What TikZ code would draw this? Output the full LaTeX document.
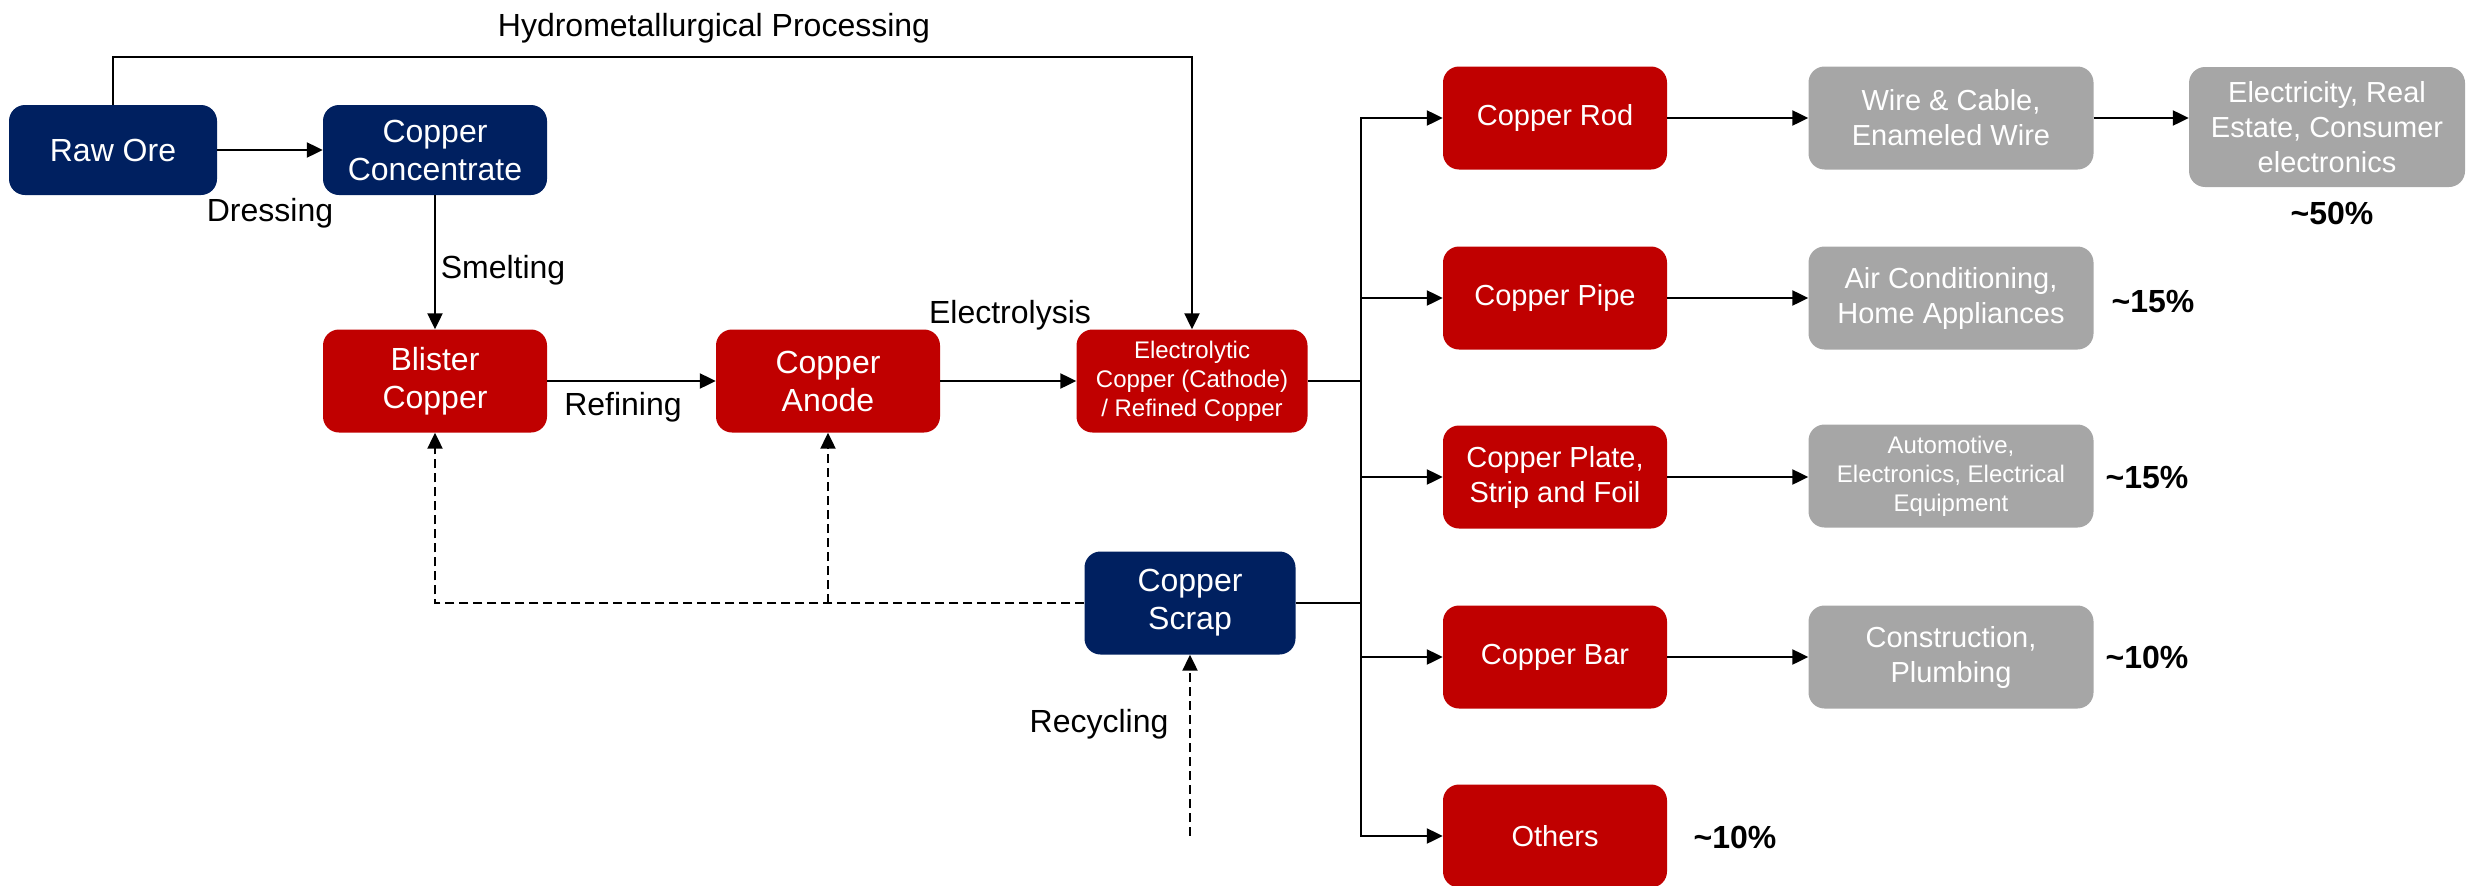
\documentclass[tikz,border=0pt]{standalone}
\usepackage{fontspec}
\setmainfont{Liberation Sans}
\usetikzlibrary{arrows.meta,calc}

\definecolor{navy}{HTML}{002060}
\definecolor{copperred}{HTML}{C00000}
\definecolor{usegray}{HTML}{A6A6A6}

\tikzset{
  box/.style={rounded corners=16pt, minimum width=224pt, minimum height=103pt,
    inner sep=0pt, align=center, text=white, font=\fontsize{32}{38}\selectfont},
  navybox/.style={box, fill=navy},
  redbox/.style={box, fill=copperred},
  graybox/.style={box, fill=usegray, minimum width=285pt, font=\fontsize{29}{35}\selectfont},
  conn/.style={line width=2.2pt, -{Triangle[length=16pt,width=15pt]}},
  plain/.style={line width=2.2pt},
  dasharrow/.style={conn, dash pattern=on 9pt off 5pt},
  lbl/.style={font=\fontsize{32}{38}\selectfont, inner sep=0pt},
  pct/.style={font=\bfseries\fontsize{32}{38}\selectfont, inner sep=0pt},
}

\begin{document}
\begin{tikzpicture}[x=1pt, y=-1pt]
\useasboundingbox (0,0) rectangle (2468,886);

% primary production chain
\node[navybox, minimum width=208pt, minimum height=90pt] (rawore) at (113,150) {Raw Ore};
\node[navybox, minimum height=90pt] (conc) at (435,150) {Copper\\Concentrate};
\node[redbox] (blister) at (435,381) {Blister\\Copper};
\node[redbox] (anode) at (828,381) {Copper\\Anode};
\node[redbox, minimum width=231pt, font=\fontsize{24}{29}\selectfont] (electro) at (1192,381)
  {Electrolytic\\Copper (Cathode)\\/ Refined Copper};
\node[navybox, minimum width=211pt] (scrap) at (1190,603) {Copper\\Scrap};

% semi-finished products
\node[redbox, font=\fontsize{29}{35}\selectfont] (rod) at (1555,118) {Copper Rod};
\node[redbox, font=\fontsize{29}{35}\selectfont] (pipe) at (1555,298) {Copper Pipe};
\node[redbox, font=\fontsize{29}{35}\selectfont] (plate) at (1555,477) {Copper Plate,\\Strip and Foil};
\node[redbox, font=\fontsize{29}{35}\selectfont] (bar) at (1555,657) {Copper Bar};
\node[redbox, font=\fontsize{29}{35}\selectfont] (others) at (1555,836) {Others};

% end uses
\node[graybox] (wire) at (1951,118) {Wire \& Cable,\\Enameled Wire};
\node[graybox] (aircon) at (1951,298) {Air Conditioning,\\Home Appliances};
\node[graybox, font=\fontsize{24}{29}\selectfont] (auto) at (1951,476)
  {Automotive,\\Electronics, Electrical\\Equipment};
\node[graybox] (constr) at (1951,657) {Construction,\\Plumbing};
\node[graybox, minimum width=276pt, minimum height=120pt] (elec) at (2327,127)
  {Electricity, Real\\Estate, Consumer\\electronics};

% process labels
\node[lbl] (lhydro) at (714,28) {Hydrometallurgical Processing};
\node[lbl] (ldress) at (270,213) {Dressing};
\node[lbl] (lsmelt) at (503,270) {Smelting};
\node[lbl] (lelec) at (1010,315) {Electrolysis};
\node[lbl] (lrefine) at (623,407) {Refining};
\node[lbl] (lrecyc) at (1099,724) {Recycling};

% shares
\node[pct] (p50) at (2332,213) {\textasciitilde50\%};
\node[pct] (p15a) at (2153,302) {\textasciitilde15\%};
\node[pct] (p15b) at (2147,478) {\textasciitilde15\%};
\node[pct] (p10a) at (2147,657) {\textasciitilde10\%};
\node[pct] (p10b) at (1735,837) {\textasciitilde10\%};

% helper points
\coordinate (bustop) at (1361,118);
\coordinate (busbot) at (1361,836);
\coordinate (recyc) at (1189,835);

% main flow
\draw[conn] (rawore) -- (conc);
\draw[conn] (conc) -- (blister);
\draw[conn] (blister) -- (anode);
\draw[conn] (anode) -- (electro);
\draw[conn] (rawore.north) -- ++(0,-48) -| (electro.north);

% distribution bus
\draw[plain] (electro.east) -- (electro.east -| bustop);
\draw[plain] (scrap.east) -- (scrap.east -| bustop);
\draw[conn] (busbot) |- (rod.west);
\draw[conn] (bustop) |- (others.west);
\draw[conn] (pipe.west -| bustop) -- (pipe.west);
\draw[conn] (plate.west -| bustop) -- (plate.west);
\draw[conn] (bar.west -| bustop) -- (bar.west);

% products to end uses
\draw[conn] (rod) -- (wire);
\draw[conn] (pipe) -- (aircon);
\draw[conn] (plate) -- (auto.west |- plate.east);
\draw[conn] (bar) -- (constr);
\draw[conn] (wire.east) -- (wire.east -| elec.west);

% scrap feedback
\draw[dasharrow] (scrap.west) -| (blister.south);
\draw[dasharrow] (anode.south |- scrap.west) -- (anode.south);
\draw[dasharrow] (recyc) -- (scrap.south |- recyc) -- (scrap.south);
\end{tikzpicture}
\end{document}
